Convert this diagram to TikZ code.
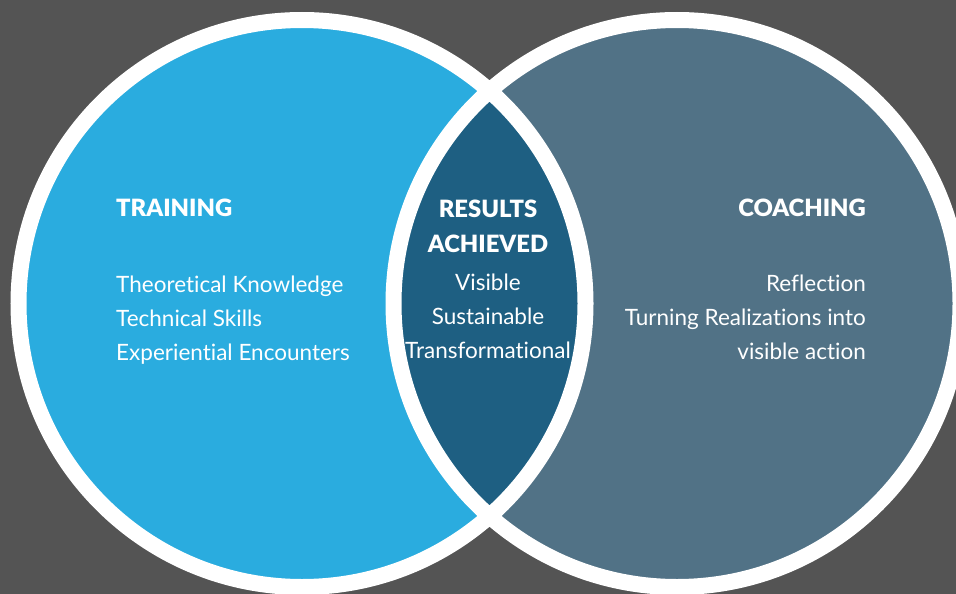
\documentclass[tikz,border=0pt]{standalone}
\usepackage{fontspec}
\setmainfont{Lato}[Ligatures={NoCommon,NoRare}]
\IfFontExistsTF{Lato-Black.ttf}
  {\newfontfamily\headfont{Lato-Black.ttf}}
  {\IfFontExistsTF{Lato-Black.otf}
    {\newfontfamily\headfont{Lato-Black.otf}}
    {\newfontfamily\headfont{Lato}[BoldFeatures={FakeBold=2.5}]}}
\definecolor{bg}{HTML}{545454}
\definecolor{train}{HTML}{2AACDF}
\definecolor{coach}{HTML}{517286}
\definecolor{result}{HTML}{1E5F82}
\tikzset{
  head/.style={font=\headfont\bfseries\fontsize{23.8}{28}\selectfont, text=white, inner sep=0pt},
  item/.style={font=\fontsize{22.5}{27}\selectfont, text=white, inner sep=0pt},
  ring/.style={draw=white, line width=16pt}
}
\begin{document}
\begin{tikzpicture}[x=1pt,y=-1pt]
\useasboundingbox (0,0) rectangle (956,594);
\fill[bg] (0,0) rectangle (956,594);
\clip (0,0) rectangle (956,594);
\coordinate (L) at (302,303.5);
\coordinate (R) at (677,303.5);
% circle fills
\fill[train] (L) circle[radius=283.5pt];
\fill[coach] (R) circle[radius=283.5pt];
% overlap
\begin{scope}
  \clip (L) circle[radius=283.5pt];
  \fill[result] (R) circle[radius=283.5pt];
\end{scope}
% white rings
\path[ring] (L) circle[radius=283.5pt] (R) circle[radius=283.5pt];

% left circle text
\node[head, anchor=base west] (trainhead) at (116,216) {TRAINING};
\node[item, anchor=base west] (t1) at (116,292) {Theoretical Knowledge};
\node[item, anchor=base west] (t2) at (116,326) {Technical Skills};
\node[item, anchor=base west] (t3) at (116,360) {Experiential Encounters};

% overlap text
\node[head, anchor=base] (rhead1) at (488,217) {RESULTS};
\node[head, anchor=base] (rhead2) at (488,252) {ACHIEVED};
\node[item, anchor=base] (r1) at (488,290) {Visible};
\node[item, anchor=base] (r2) at (488,324) {Sustainable};
\node[item, anchor=base] (r3) at (488,358) {Transformational};

% right circle text
\node[head, anchor=base east] (coachhead) at (866,216) {COACHING};
\node[item, anchor=base east] (c1) at (866,291) {Reflection};
\node[item, anchor=base east] (c2) at (866,325) {Turning Realizations into};
\node[item, anchor=base east] (c3) at (866,359) {visible action};
\end{tikzpicture}
\end{document}
